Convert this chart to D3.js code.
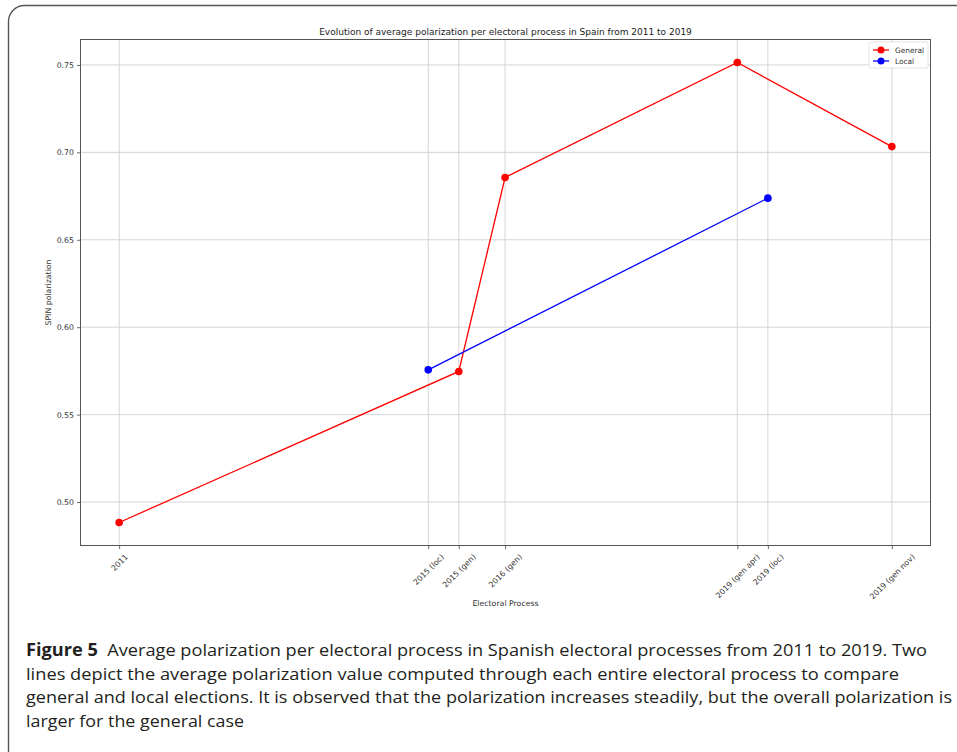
<!DOCTYPE html>
<html><head><meta charset="utf-8">
<script src="https://cdn.jsdelivr.net/npm/d3@7"></script>
<style>body{margin:0;background:#fff}svg{display:block}</style>
</head><body>
<script>
// ---- data ----
const categories = ["2011","2015 (loc)","2015 (gen)","2016 (gen)","2019 (gen apr)","2019 (loc)","2019 (gen nov)"];
// position of each process on the time axis (decimal years)
const timeline = [2011.0, 2014.54, 2014.89, 2015.42, 2018.08, 2018.43, 2019.85];
const generalCats = ["2011","2015 (gen)","2016 (gen)","2019 (gen apr)","2019 (gen nov)"];
const generalVals = [0.4883, 0.5747, 0.6856, 0.7514, 0.7033];
const localCats = ["2015 (loc)","2019 (loc)"];
const localVals = [0.5756, 0.6738];
const yTicks = [0.50, 0.55, 0.60, 0.65, 0.70, 0.75];
const captionLines = [
  ["Figure 5", "  Average polarization per electoral process in Spanish electoral processes from 2011 to 2019. Two"],
  ["", "lines depict the average polarization value computed through each entire electoral process to compare"],
  ["", "general and local elections. It is observed that the polarization increases steadily, but the overall polarization is"],
  ["", "larger for the general case"]
];
const captionWidths = [901, 873, 926, 218];

const W = 957, H = 752;
const svg = d3.select("body").append("svg").attr("width", W).attr("height", H);

// outer rounded frame
svg.append("rect").attr("x", 8.5).attr("y", 5.5).attr("width", 1000).attr("height", 800)
  .attr("rx", 16).attr("fill", "none").attr("stroke", "#555").attr("stroke-width", 1.4);

const L = 80.5, R = 930.5, T = 39.5, B = 545.5;
const posOf = c => timeline[categories.indexOf(c)];
const xExt = d3.extent(timeline), xPad = (xExt[1]-xExt[0])*0.05;
const x = d3.scaleLinear().domain([xExt[0]-xPad, xExt[1]+xPad]).range([L, R]);
const allVals = generalVals.concat(localVals);
const yExt = d3.extent(allVals), yPad = (yExt[1]-yExt[0])*0.05;
const y = d3.scaleLinear().domain([yExt[0]-yPad, yExt[1]+yPad]).range([B, T]);

const font = "DejaVu Sans";
// grid
const g = svg.append("g");
g.selectAll(".vg").data(timeline).join("line")
  .attr("x1", d => x(d)).attr("x2", d => x(d)).attr("y1", T).attr("y2", B)
  .attr("stroke", "#cfcfcf").attr("stroke-width", 0.9);
g.selectAll(".hg").data(yTicks).join("line")
  .attr("x1", L).attr("x2", R).attr("y1", d => y(d)).attr("y2", d => y(d))
  .attr("stroke", "#cfcfcf").attr("stroke-width", 0.9);

// axes
const xAxis = d3.axisBottom(x).tickValues(timeline).tickFormat((d,i) => categories[i]).tickSize(3.5).tickPadding(3);
const xg = svg.append("g").attr("transform", `translate(0,${B})`).call(xAxis);
xg.select(".domain").remove();
xg.selectAll(".tick line").attr("stroke", "#444").attr("stroke-width", 0.8);
xg.selectAll(".tick text").attr("font-family", font).attr("font-size", 7.8).attr("fill", "#333")
  .attr("text-anchor", "middle").attr("dy", null).attr("y", 0)
  .attr("dominant-baseline", "central")
  .each(function() {
    const w = this.getComputedTextLength(), h = 9;
    const bh = (w + h) / Math.SQRT2;
    d3.select(this).attr("transform", `translate(0,${7 + bh/2}) rotate(-45)`);
  });

const yAxis = d3.axisLeft(y).tickValues(yTicks).tickFormat(d3.format(".2f")).tickSize(3.5).tickPadding(3);
const yg = svg.append("g").attr("transform", `translate(${L},0)`).call(yAxis);
yg.select(".domain").remove();
yg.selectAll(".tick line").attr("stroke", "#444").attr("stroke-width", 0.8);
yg.selectAll(".tick text").attr("font-family", font).attr("font-size", 7.8).attr("fill", "#333");

// frame
svg.append("rect").attr("x", L).attr("y", T).attr("width", R-L).attr("height", B-T)
  .attr("fill", "none").attr("stroke", "#555").attr("stroke-width", 1);

// series
const series = [
  {name: "General", color: "#ff0000", cats: generalCats, vals: generalVals},
  {name: "Local", color: "#0000ff", cats: localCats, vals: localVals}
];
const line = d3.line().x(d => x(d[0])).y(d => y(d[1]));
series.forEach(s => {
  const pts = s.cats.map((c,i) => [posOf(c), s.vals[i]]);
  svg.append("path").datum(pts).attr("d", line).attr("fill", "none")
    .attr("stroke", s.color).attr("stroke-width", 1.3);
  svg.selectAll(null).data(pts).join("circle")
    .attr("cx", d => x(d[0])).attr("cy", d => y(d[1])).attr("r", 3.8).attr("fill", s.color);
});

// title and labels
svg.append("text").attr("x", (L+R)/2).attr("y", 35).attr("text-anchor", "middle")
  .attr("font-family", font).attr("font-size", 9).attr("fill", "#222")
  .text("Evolution of average polarization per electoral process in Spain from 2011 to 2019");
svg.append("text").attr("x", (L+R)/2).attr("y", 606).attr("text-anchor", "middle")
  .attr("font-family", font).attr("font-size", 7.8).attr("fill", "#333").text("Electoral Process");
svg.append("text").attr("transform", `translate(51,${(T+B)/2}) rotate(-90)`).attr("text-anchor", "middle")
  .attr("font-family", font).attr("font-size", 7.8).attr("fill", "#333").text("SPIN polarization");

// legend
const lg = svg.append("g").attr("transform", "translate(869,42)");
lg.append("rect").attr("width", 59).attr("height", 26).attr("rx", 2).attr("fill", "#fff")
  .attr("stroke", "#ddd").attr("stroke-width", 0.8);
series.forEach((s,i) => {
  const yy = 8 + i*11;
  lg.append("line").attr("x1", 4).attr("x2", 20).attr("y1", yy).attr("y2", yy).attr("stroke", s.color).attr("stroke-width", 1.3);
  lg.append("circle").attr("cx", 12).attr("cy", yy).attr("r", 3.5).attr("fill", s.color);
  lg.append("text").attr("x", 26).attr("y", yy+2.7).attr("font-family", font).attr("font-size", 7.4)
    .attr("fill", "#333").text(s.name);
});

// caption
captionLines.forEach((ln, i) => {
  const t = svg.append("text").attr("x", 26).attr("y", 656 + i*23.6)
    .attr("font-family", "Open Sans").attr("font-size", 17).attr("fill", "#231f20")
    .attr("textLength", captionWidths[i]).attr("lengthAdjust", "spacingAndGlyphs");
  if (ln[0]) t.append("tspan").attr("font-weight", "bold").text(ln[0]);
  t.append("tspan").attr("xml:space", "preserve").style("white-space", "pre").text(ln[1]);
});
</script>
</body></html>
